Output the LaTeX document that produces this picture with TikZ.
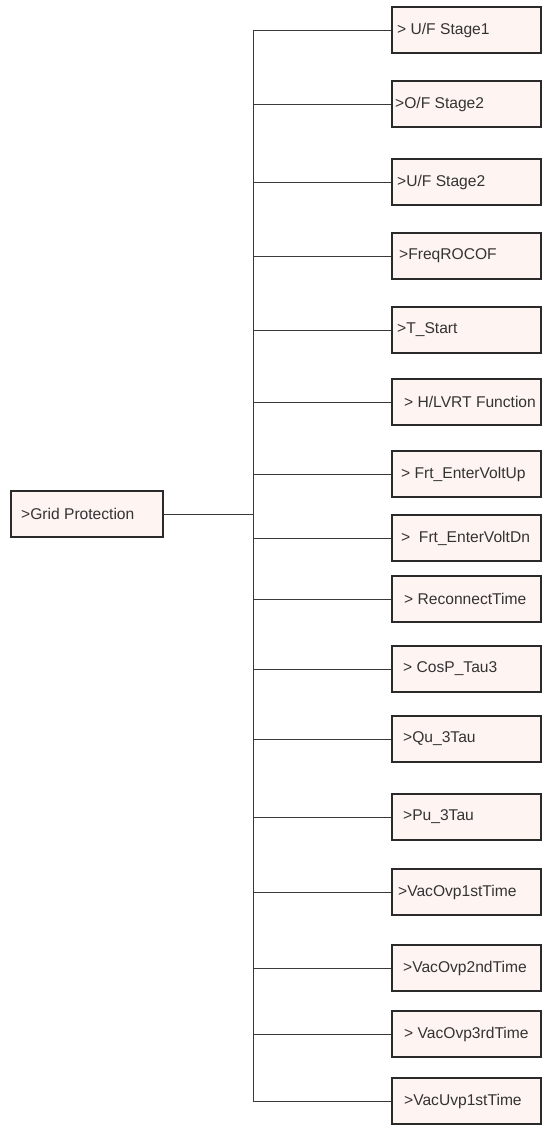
\documentclass[tikz,border=0pt]{standalone}
\usepackage{fontspec}
\setmainfont{Liberation Sans}
\definecolor{boxfill}{HTML}{FEF4F1}
\definecolor{boxline}{HTML}{2A2A2A}
\definecolor{conn}{HTML}{3A3A3A}
\definecolor{txt}{HTML}{333333}
\begin{document}
\begin{tikzpicture}[x=1pt,y=-1pt,
  menubox/.style={draw=boxline, fill=boxfill, line width=1.8pt, minimum width=149pt, minimum height=46pt, inner sep=0pt},
  rootbox/.style={menubox, minimum width=152pt},
  lbl/.style={anchor=west, inner sep=0pt, text=txt, font=\fontsize{15.6pt}{18pt}\selectfont},
  link/.style={draw=conn, line width=1pt}]
\useasboundingbox (0,0) rectangle (543,1125);
\coordinate (trunk) at (253,0);
\node[rootbox] (root) at (87,514) {};
\node[lbl] (troot) at (21,514) {>Grid Protection};
\foreach \i/\y/\tx/\t in {
  1/30/397/{> U/F Stage1},
  2/104/395/{>O/F Stage2},
  3/182/397/{>U/F Stage2},
  4/256/399/{>FreqROCOF},
  5/330/397/{>T\_Start},
  6/402/404/{> H/LVRT Function},
  7/474/401/{> Frt\_EnterVoltUp},
  8/538/401/{> \ Frt\_EnterVoltDn},
  9/599/404/{> ReconnectTime},
  10/669/403/{> CosP\_Tau3},
  11/739/403/{>Qu\_3Tau},
  12/817/403/{>Pu\_3Tau},
  13/892/398/{>VacOvp1stTime},
  14/968/403/{>VacOvp2ndTime},
  15/1034/404/{> VacOvp3rdTime},
  16/1101/404/{>VacUvp1stTime}}{
  \node[menubox] (b\i) at (466.5,\y) {};
  \node[lbl] (t\i) at (\tx,\y) {\t};
  \draw[link] (b\i.west -| trunk) -- (b\i.west);
}
\draw[link] (b1.west -| trunk) -- (b16.west -| trunk);
\draw[link] (root.east) -- (root.east -| trunk);
\end{tikzpicture}
\end{document}
